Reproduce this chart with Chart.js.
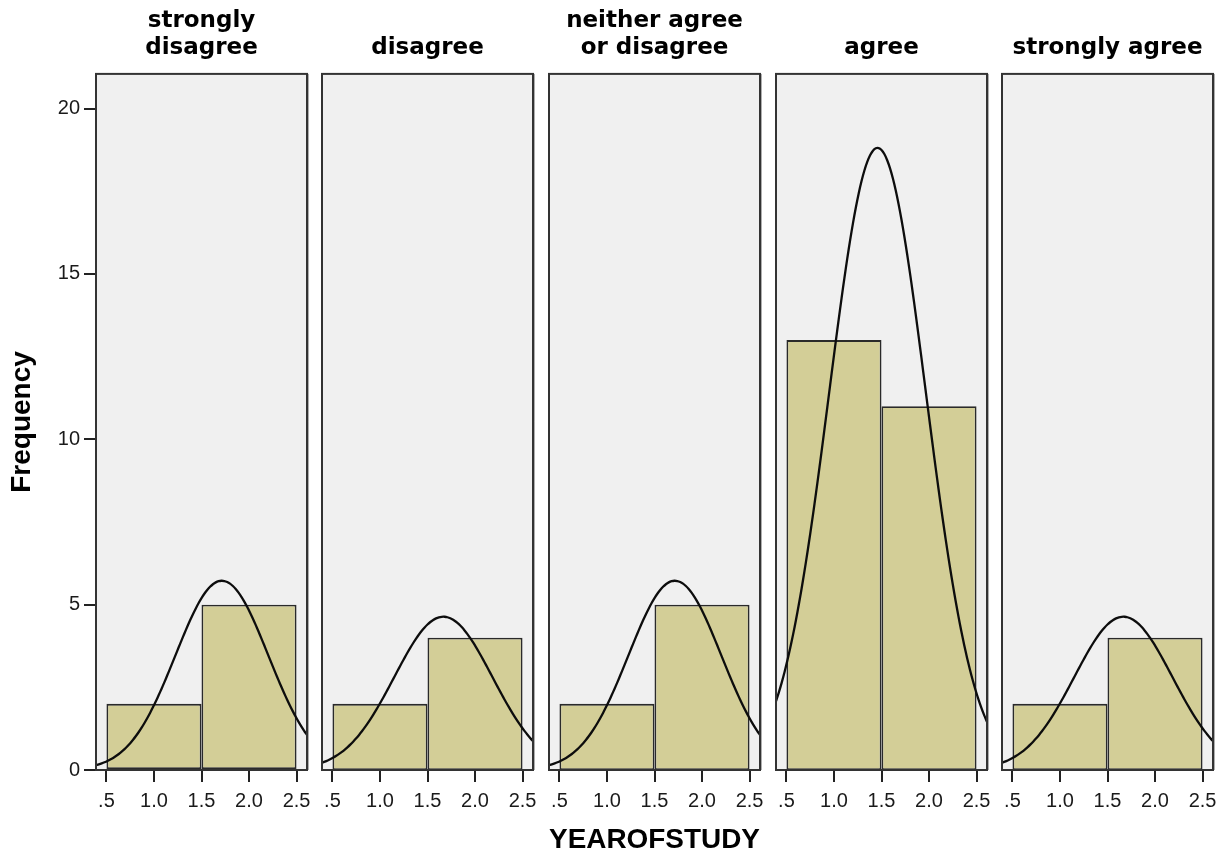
<!DOCTYPE html>
<html>
<head>
<meta charset="utf-8">
<title>YEAROFSTUDY by response</title>
<script src="https://cdn.jsdelivr.net/npm/chart.js@4/dist/chart.umd.min.js"></script>
<style>
  html, body { margin: 0; padding: 0; background: #ffffff; }
  #wrap { position: relative; width: 1225px; height: 859px; overflow: hidden; background: #ffffff; }
  #wrap canvas { position: absolute; left: 0; top: 0; }
</style>
</head>
<body>
<div id="wrap"></div>
<script>
// Response categories (one panel each)
const panelTitles = [
  ['strongly', 'disagree'],
  ['', 'disagree'],
  ['neither agree', 'or disagree'],
  ['', 'agree'],
  ['', 'strongly agree']
];

// Year of study (bin centres) and frequencies per response
const yearOfStudy = [1, 2];
const freqStronglyDisagree = [2, 5];
const freqDisagree = [2, 4];
const freqNeither = [2, 5];
const freqAgree = [13, 11];
const freqStronglyAgree = [2, 4];
const panelCounts = [freqStronglyDisagree, freqDisagree, freqNeither, freqAgree, freqStronglyAgree];

// Axis ticks
const xTickValues = [0.5, 1, 1.5, 2, 2.5];
const xTickLabels = ['.5', '1.0', '1.5', '2.0', '2.5'];
const yTickValues = [0, 5, 10, 15, 20];
const yTickLabels = ['0', '5', '10', '15', '20'];

// Page geometry
const W = 1225, H = 859;
const panelLeft = [96, 322, 549, 776, 1002];
const panelWidth = 211;
const xAxisHeight = 89;
const xMin = 0.39, xMax = 2.61, yMax = 21.05;

Chart.defaults.font.family = "'Liberation Sans', Arial, sans-serif";
Chart.defaults.color = '#1a1a1a';

// Normal curve from the panel's mean and sample SD, scaled to frequency (bin width 1)
function normalCurve(counts) {
  const n = counts.reduce((a, b) => a + b, 0);
  const mean = counts.reduce((s, c, i) => s + c * yearOfStudy[i], 0) / n;
  const variance = counts.reduce((s, c, i) => s + c * (yearOfStudy[i] - mean) ** 2, 0) / (n - 1);
  const sd = Math.sqrt(variance);
  const pts = [];
  const steps = 74;
  for (let k = 0; k <= steps; k++) {
    const x = xMin + (xMax - xMin) * k / steps;
    const y = n / (sd * Math.sqrt(2 * Math.PI)) * Math.exp(-0.5 * ((x - mean) / sd) ** 2);
    pts.push({ x, y });
  }
  return pts;
}

// Grey plot background and dark frame around each panel
const panelFrame = {
  id: 'panelFrame',
  beforeDraw(chart) {
    const { ctx, chartArea: a } = chart;
    ctx.save();
    ctx.fillStyle = '#f0f0f0';
    ctx.fillRect(a.left, a.top, a.right - a.left, a.bottom - a.top);
    ctx.restore();
  },
  afterDatasetsDraw(chart) {
    const { ctx, chartArea: a } = chart;
    ctx.save();
    ctx.strokeStyle = '#333333';
    ctx.lineWidth = 2;
    ctx.strokeRect(a.left, a.top, a.right - a.left, a.bottom - a.top);
    ctx.strokeStyle = 'rgba(120,120,120,0.6)';
    ctx.lineWidth = 1;
    ctx.beginPath();
    ctx.moveTo(a.right + 1.5, a.top);
    ctx.lineTo(a.right + 1.5, a.bottom);
    ctx.stroke();
    ctx.restore();
  }
};

const wrap = document.getElementById('wrap');

panelCounts.forEach((counts, i) => {
  const canvas = document.createElement('canvas');
  canvas.width = W;
  canvas.height = H;
  canvas.style.width = W + 'px';
  canvas.style.height = H + 'px';
  wrap.appendChild(canvas);

  const right = panelLeft[i] + panelWidth;
  const showY = i === 0;

  new Chart(canvas, {
    type: 'bar',
    data: {
      datasets: [
        {
          type: 'line',
          data: normalCurve(counts),
          borderColor: '#0d0d0d',
          borderWidth: 2.3,
          pointRadius: 0,
          fill: false,
          tension: 0.3,
          order: 0
        },
        {
          type: 'bar',
          data: yearOfStudy.map((x, j) => ({ x, y: counts[j] })),
          backgroundColor: '#d3ce97',
          borderColor: '#2a2a2a',
          borderWidth: 1.8,
          borderSkipped: false,
          barPercentage: 1,
          // ticks sit every half unit, so the bar ruler's gap is half a bin; doubling spans the full bin
          categoryPercentage: 2,
          order: 1
        }
      ]
    },
    options: {
      responsive: false,
      animation: false,
      devicePixelRatio: 1,
      events: [],
      layout: {
        padding: { left: showY ? 0 : panelLeft[i], right: W - right, top: 0, bottom: 0 }
      },
      plugins: {
        legend: { display: false },
        tooltip: { enabled: false },
        title: {
          display: true,
          text: panelTitles[i],
          fullSize: false,
          color: '#000',
          font: { family: "'DejaVu Sans', sans-serif", weight: 'bold', size: 23, lineHeight: 1.15 },
          padding: { top: 8, bottom: 13 }
        }
      },
      scales: {
        x: {
          type: 'linear',
          min: xMin,
          max: xMax,
          offset: false,
          afterBuildTicks: s => { s.ticks = xTickValues.map(v => ({ value: v })); },
          afterFit: s => { s.height = xAxisHeight; },
          ticks: {
            callback: (v, idx) => xTickLabels[idx],
            color: '#1a1a1a',
            font: { size: 20 },
            padding: 7,
            maxRotation: 0,
            autoSkip: false
          },
          grid: {
            display: true,
            offset: false,
            drawOnChartArea: false,
            drawTicks: true,
            tickLength: 12,
            tickColor: '#222',
            tickWidth: 2,
            color: '#222',
            lineWidth: 2
          },
          border: { display: false },
          title: {
            display: i === 2,
            text: 'YEAROFSTUDY',
            color: '#000',
            font: { size: 28, weight: 'bold' },
            padding: { top: 0, bottom: 2 }
          }
        },
        y: {
          type: 'linear',
          min: 0,
          max: yMax,
          display: showY,
          afterBuildTicks: s => { s.ticks = yTickValues.map(v => ({ value: v })); },
          afterFit: s => { s.width = showY ? panelLeft[0] : 0; },
          ticks: {
            callback: (v, idx) => yTickLabels[idx],
            color: '#1a1a1a',
            font: { size: 20 },
            padding: 4
          },
          grid: {
            display: true,
            drawOnChartArea: false,
            drawTicks: true,
            tickLength: 12,
            tickColor: '#222',
            tickWidth: 2,
            color: '#222',
            lineWidth: 2
          },
          border: { display: false },
          title: {
            display: true,
            text: 'Frequency',
            color: '#000',
            font: { size: 28, weight: 'bold' },
            padding: { top: 5, bottom: 0 }
          }
        }
      }
    },
    plugins: [panelFrame]
  });
});
</script>
</body>
</html>
